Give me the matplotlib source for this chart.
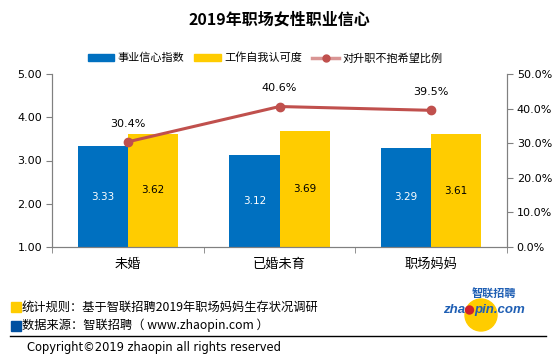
import matplotlib
matplotlib.use("Agg")
import matplotlib.pyplot as plt
from matplotlib.lines import Line2D
from matplotlib.patches import Patch, Ellipse, Rectangle
import numpy as np

plt.rcParams['font.family'] = ['Noto Sans CJK SC', 'DejaVu Sans']

categories = ['未婚', '已婚未育', '职场妈妈']
confidence = [3.33, 3.12, 3.29]
recognition = [3.62, 3.69, 3.61]
no_hope = [0.304, 0.406, 0.395]
left_ticks = [1.0, 2.0, 3.0, 4.0, 5.0]
right_ticks = [0.0, 0.1, 0.2, 0.3, 0.4, 0.5]
series_names = ['事业信心指数', '工作自我认可度', '对升职不抱希望比例']
title = '2019年职场女性职业信心'
note1 = '统计规则：基于智联招聘2019年职场妈妈生存状况调研'
note2 = '数据来源：智联招聘（ www.zhaopin.com ）'
copyright_text = 'Copyright©2019 zhaopin all rights reserved'

BLUE = '#0070C0'
YELLOW = '#FFCC00'
RED = '#C0504D'
GRAY = '#808080'
LOGO_BLUE = '#1F5FB4'

W, H = 554, 362
fig = plt.figure(figsize=(W / 100, H / 100), dpi=100)

def fx(px):
    return px / W

def fy(py):
    return 1 - py / H

def circle(cx, cy, r, color, z=1):
    e = Ellipse((fx(cx), fy(cy)), 2 * r / W, 2 * r / H, color=color,
                transform=fig.transFigure, figure=fig, zorder=z)
    fig.patches.append(e)

ax = fig.add_axes([fx(52), fy(247), fx(507) - fx(52), fy(74) - fy(247)])
x = np.arange(len(categories))
bw = 0.33
ax.bar(x - bw / 2, [v - 1 for v in confidence], bw, bottom=1, color=BLUE, zorder=2)
ax.bar(x + bw / 2, [v - 1 for v in recognition], bw, bottom=1, color=YELLOW, zorder=2)
for xi, v in zip(x, confidence):
    ax.text(xi - bw / 2, (1 + v) / 2, f'{v:.2f}', ha='center', va='center',
            color='white', fontsize=7.5, family='DejaVu Sans', zorder=4)
for xi, v in zip(x, recognition):
    ax.text(xi + bw / 2, (1 + v) / 2, f'{v:.2f}', ha='center', va='center',
            color='black', fontsize=7.5, family='DejaVu Sans', zorder=4)

ax.set_xlim(-0.5, 2.5)
ax.set_ylim(1, 5)
ax.set_yticks(left_ticks)
ax.set_yticklabels([f'{t:.2f}' for t in left_ticks], family='DejaVu Sans', fontsize=8)
ax.set_xticks(x)
ax.set_xticklabels(categories, fontsize=9.5)
ax.set_xticks([-0.5, 0.5, 1.5, 2.5], minor=True)
ax.tick_params(axis='x', which='major', length=0, pad=8)
ax.tick_params(axis='x', which='minor', length=4, color=GRAY, direction='out')
ax.tick_params(axis='y', length=4, color=GRAY, direction='out', pad=3)
ax.spines['top'].set_visible(False)
for s in ['left', 'right', 'bottom']:
    ax.spines[s].set_color(GRAY)

ax2 = ax.twinx()
ax2.set_ylim(0, 0.5)
ax2.set_yticks(right_ticks)
ax2.set_yticklabels([f'{t*100:.1f}%' for t in right_ticks], family='DejaVu Sans', fontsize=8)
ax2.tick_params(axis='y', length=4, color=GRAY, direction='out', pad=3)
ax2.spines['top'].set_visible(False)
for s in ['left', 'right', 'bottom']:
    ax2.spines[s].set_color(GRAY)
ax2.plot(x, no_hope, color=RED, lw=2.2, marker='o', ms=6, zorder=5)
for xi, v in zip(x, no_hope):
    ax2.annotate(f'{v*100:.1f}%', (xi, v), xytext=(0, 13), textcoords='offset points',
                 ha='center', va='center', fontsize=8, family='DejaVu Sans')

# title
fig.text(fx(279), fy(20), title, ha='center', va='center', fontsize=11.5, fontweight='bold')

# legend
handles = [Patch(color=BLUE), Patch(color=YELLOW),
           Line2D([0], [0], color='#D99594', lw=2.5, marker='o', ms=5,
                  markerfacecolor=RED, markeredgecolor=RED)]
fig.legend(handles, series_names, loc='center', bbox_to_anchor=(fx(265), fy(58)),
           ncol=3, frameon=False, fontsize=8, handlelength=2.4, handleheight=0.5,
           columnspacing=0.9, handletextpad=0.3)

# footer
fig.patches.append(Rectangle((fx(11), fy(312)), fx(10), fy(302) - fy(312), color=YELLOW,
                             transform=fig.transFigure, figure=fig))
fig.patches.append(Rectangle((fx(11), fy(331)), fx(10), fy(321) - fy(331), color='#0050A0',
                             transform=fig.transFigure, figure=fig))
fig.text(fx(22), fy(307), note1, ha='left', va='center', fontsize=8.8)
fig.text(fx(22), fy(325), note2, ha='left', va='center', fontsize=8.8)
fig.add_artist(Line2D([fx(10), fx(546)], [fy(335.5), fy(335.5)], color='black', lw=1,
                      transform=fig.transFigure))
fig.text(fx(27), fy(347), copyright_text, ha='left', va='center', fontsize=8.3,
         family='DejaVu Sans')

# logo
circle(481, 315, 16, YELLOW, z=1)
fig.patches.append(Rectangle((fx(460), fy(345)), fx(50), fy(336) - fy(345), color='white',
                             transform=fig.transFigure, figure=fig, zorder=1.5))
fig.text(fx(494), fy(294.5), '智联招聘', ha='center', va='center', fontsize=8,
         fontweight='bold', style='italic', color=LOGO_BLUE)
fig.text(fx(465), fy(310), 'zha', ha='right', va='center', fontsize=9.5,
         fontweight='bold', style='italic', color=LOGO_BLUE, family='Liberation Sans')
fig.text(fx(474), fy(310), 'pin.com', ha='left', va='center', fontsize=9.5,
         fontweight='bold', style='italic', color=LOGO_BLUE, family='Liberation Sans')
circle(469.5, 310, 4, '#D0202A', z=2)

fig.savefig('out.png', dpi=100)
